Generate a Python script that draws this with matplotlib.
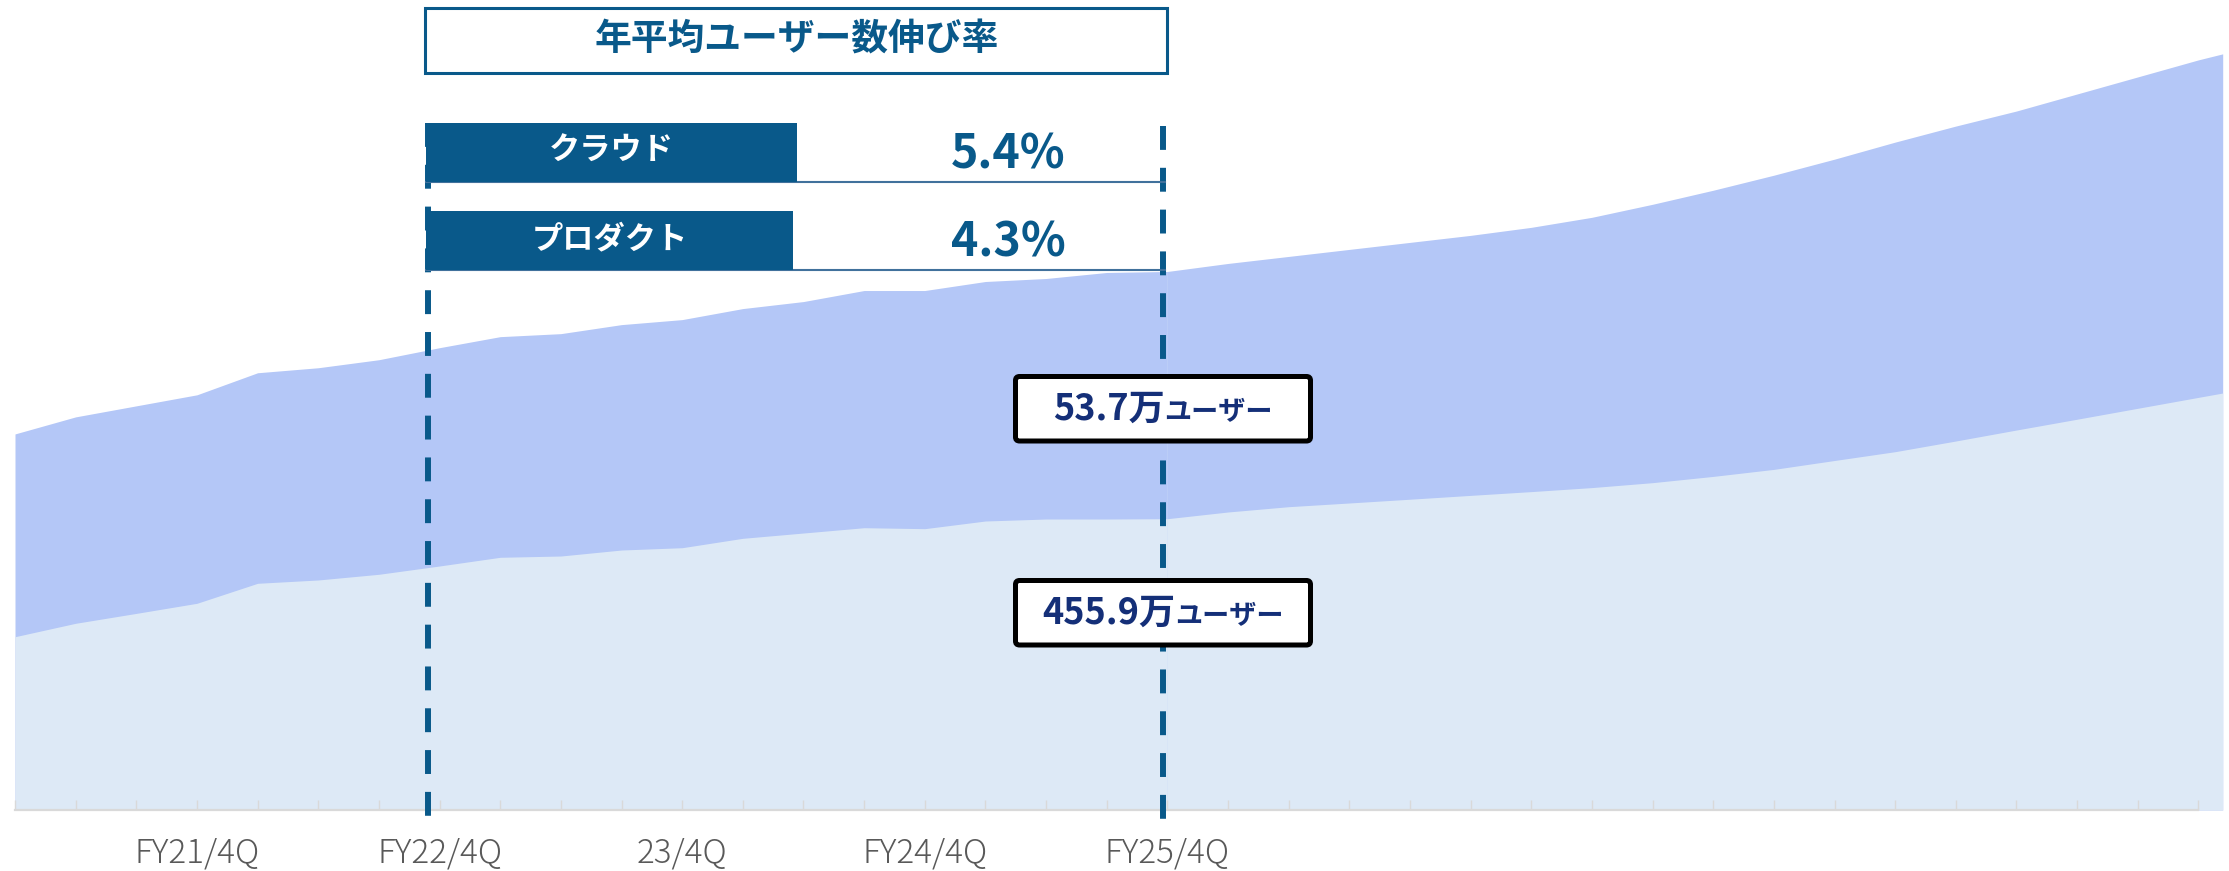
import numpy as np
import matplotlib
matplotlib.use("Agg")
import matplotlib.pyplot as plt
from matplotlib.patches import Rectangle, FancyBboxPatch
from matplotlib.offsetbox import TextArea, HPacker, AnnotationBbox

plt.rcParams['font.family'] = ['Noto Sans CJK JP', 'DejaVu Sans']

# ---- data (万ユーザー) -------------------------------------------------
# quarterly actuals, FY21/1Q .. FY25/4Q
product_actual = [271.2, 292.2, 307.7, 323.5, 354.8, 360.0, 368.9, 381.9, 395.5, 397.5,
                  406.9, 410.5, 425.2, 433.5, 441.8, 440.3, 452.3, 455.4, 455.4, 455.9]
cloud_actual = [37.5, 39.2, 40.3, 41.4, 43.6, 44.1, 44.9, 46.1, 47.2, 47.5,
                48.4, 48.9, 50.0, 50.7, 51.8, 51.8, 52.7, 53.0, 53.6, 53.7]
# outlook after FY25/4Q (quarter index positions)
outlook_pos = [19, 20, 21, 22, 23, 24, 25, 26, 27, 28, 29, 30, 31, 32, 33, 34, 35, 36, 36.4]
product_outlook = [455.9, 466.4, 474.7, 480.5, 486.4, 492.4, 498.3, 504.6, 512.3, 522.1,
                   533.1, 547.0, 560.8, 577.5, 594.7, 611.6, 628.7, 645.8, 652.6]
cloud_outlook = [53.7, 54.5, 55.2, 55.9, 56.6, 57.3, 58.1, 59.1, 60.4, 61.8,
                 63.3, 64.9, 66.6, 68.2, 69.7, 71.4, 73.1, 74.8, 75.4]

n_quarters = 37
tick_label_pos = [3, 7, 11, 15, 19]
tick_labels = ["FY21/4Q", "FY22/4Q", "23/4Q", "FY24/4Q", "FY25/4Q"]

growth_names = ["クラウド", "プロダクト"]
growth_rates = [5.4, 4.3]
callout_values = [53.7, 455.9]   # cloud, product at FY25/4Q

# ---- style -----------------------------------------------------------
C_CLOUD = "#B4C7F7"
C_PROD = "#DDE9F6"
C_BLUE = "#09598A"
C_NAVY = "#142F78"
C_AXIS = "#D9D9D9"

W, H = 2229, 871
fig = plt.figure(figsize=(W / 100, H / 100), dpi=100)

x_act = np.arange(len(product_actual))
xmax = outlook_pos[-1]
ax_rect = [15 / W, 61 / H, (2222.7 - 15) / W, 810 / H]

# cloud area (behind)
ax_c = fig.add_axes(ax_rect, zorder=1)
ax_c.fill_between(x_act, 0, cloud_actual, color=C_CLOUD, lw=0)
ax_c.fill_between(outlook_pos, 0, cloud_outlook, color=C_CLOUD, lw=0)
ax_c.set_xlim(0, xmax)
ax_c.set_ylim(0, 80.77)
ax_c.axis("off")

# product area (front) + category axis
ax_p = fig.add_axes(ax_rect, zorder=2)
ax_p.patch.set_visible(False)
ax_p.fill_between(x_act, 0, product_actual, color=C_PROD, lw=0)
ax_p.fill_between(outlook_pos, 0, product_outlook, color=C_PROD, lw=0)
ax_p.set_xlim(0, xmax)
ax_p.set_ylim(0, 1267.7)
for s in ("left", "right", "top"):
    ax_p.spines[s].set_visible(False)
ax_p.spines["bottom"].set_color(C_AXIS)
ax_p.spines["bottom"].set_linewidth(1.6)
ax_p.spines["bottom"].set_bounds(0, n_quarters - 1)
ax_p.yaxis.set_visible(False)
labels = [""] * n_quarters
for p, t in zip(tick_label_pos, tick_labels):
    labels[p] = t
ax_p.set_xticks(np.arange(n_quarters))
ax_p.set_xticklabels(labels)
ax_p.tick_params(axis="x", direction="in", length=7.2, width=1.0, color=C_AXIS,
                 pad=18.5, labelsize=24, labelcolor="#595959")
for lab in ax_p.get_xticklabels():
    lab.set_fontweight("light")

# ---- overlay in pixel coordinates -------------------------------------
ov = fig.add_axes([0, 0, 1, 1], zorder=5)
ov.set_xlim(0, W)
ov.set_ylim(H, 0)
ov.axis("off")
ov.patch.set_visible(False)

# period markers
dash = (0, (4, 3))
ov.plot([428, 428], [123, 821], color=C_BLUE, lw=4.3, linestyle=dash,
        dash_capstyle="butt", solid_capstyle="butt", zorder=2)
ov.plot([1163, 1163], [126, 822], color=C_BLUE, lw=4.3, linestyle=dash,
        dash_capstyle="butt", solid_capstyle="butt", zorder=2)

# heading
ov.add_patch(Rectangle((425, 8), 742, 65, facecolor="white", edgecolor=C_BLUE,
                       lw=2.2, zorder=3))
ov.text(797, 40, "年平均ユーザー数伸び率", ha="center", va="center",
        fontsize=26.5, fontweight="bold", color=C_BLUE, zorder=4)

# growth rate rows
bar_tops = [123, 211]
bar_rights = [797, 793]
for name, rate, top, right in zip(growth_names, growth_rates, bar_tops, bar_rights):
    bottom = top + 59
    ov.plot([426, 1165], [bottom, bottom], color="#41719C", lw=1.5, zorder=3)
    ov.add_patch(Rectangle((426, top), right - 426, 59, facecolor=C_BLUE,
                           edgecolor="none", zorder=3))
    ov.text((426 + right) / 2, top + 28, name, ha="center", va="center",
            fontsize=22.5, fontweight="bold", color="white", zorder=4)
    ov.text(1008, bottom - 13.5, f"{rate}%", ha="center", va="baseline",
            fontsize=33.5, fontweight="bold", color=C_BLUE, zorder=4)

# callouts at FY25/4Q
box_tops = [376.5, 580.5]
for val, top in zip(callout_values, box_tops):
    ov.add_patch(FancyBboxPatch((1015.5, top), 295, 64.5,
                                boxstyle="round,pad=0,rounding_size=4",
                                facecolor="white", edgecolor="black", lw=3.6, zorder=5))
    pack = HPacker(children=[
        TextArea(f"{val}万", textprops=dict(fontsize=26, fontweight="bold", color=C_NAVY)),
        TextArea("ユーザー", textprops=dict(fontsize=19.5, fontweight="bold", color=C_NAVY)),
    ], align="baseline", pad=0, sep=0)
    ab = AnnotationBbox(pack, (1163, top + 33), xycoords="data", frameon=False,
                        box_alignment=(0.5, 0.5), zorder=6)
    ov.add_artist(ab)

fig.savefig("out.png", dpi=100)
